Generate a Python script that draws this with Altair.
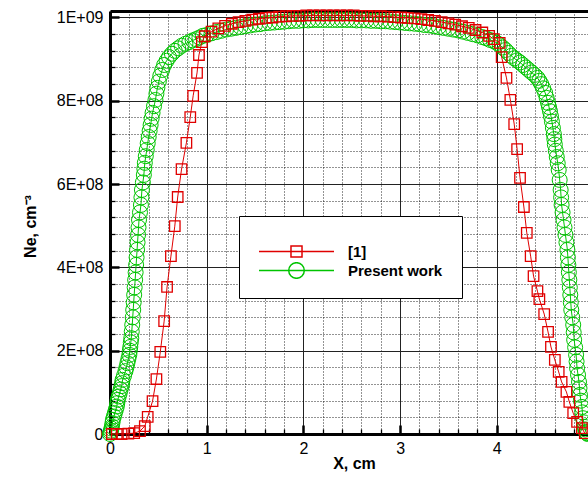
import altair as alt
import pandas as pd

RED = "#e00000"
GREEN = "#00c400"
FONT = "Liberation Sans"
series_names = ["[1]", "Present work"]

# ---- data: [1] (red squares), Ne in units of 1E+08 cm^-3 ----
red_x = [0.02, 0.07, 0.12, 0.19, 0.25, 0.31, 0.36, 0.39, 0.44, 0.48, 0.52, 0.56, 0.59, 0.63,
         0.67, 0.70, 0.74, 0.79, 0.83, 0.86, 0.90, 0.92, 0.95,
         0.98, 1.05, 1.12, 1.19, 1.26, 1.33, 1.40, 1.47, 1.54, 1.61, 1.68, 1.75, 1.82, 1.89,
         1.96, 2.03, 2.10, 2.17, 2.24, 2.31, 2.38, 2.45, 2.52, 2.59, 2.66, 2.73, 2.80, 2.87,
         2.94, 3.01, 3.08, 3.15, 3.22, 3.29, 3.36, 3.43, 3.50, 3.57, 3.64, 3.71, 3.78, 3.85,
         3.92, 3.97,
         4.03, 4.05, 4.10, 4.14, 4.18, 4.21, 4.24, 4.28, 4.31, 4.35, 4.38, 4.42, 4.44, 4.49,
         4.53, 4.56, 4.60, 4.64, 4.67, 4.72, 4.75, 4.79, 4.83, 4.88, 4.91]
red_ne = [0.00, 0.00, 0.00, 0.01, 0.02, 0.07, 0.19, 0.41, 0.79, 1.32, 1.97, 2.71, 3.53, 4.27,
          4.99, 5.69, 6.36, 6.99, 7.61, 8.12, 8.67, 9.10, 9.41,
          9.55, 9.66, 9.74, 9.80, 9.85, 9.89, 9.92, 9.95, 9.97, 9.99, 10.00, 10.02, 10.03, 10.04,
          10.04, 10.05, 10.05, 10.05, 10.05, 10.05, 10.05, 10.05, 10.05, 10.04, 10.04, 10.03, 10.03, 10.02,
          10.01, 10.00, 9.99, 9.98, 9.96, 9.94, 9.92, 9.89, 9.86, 9.83, 9.79, 9.75, 9.70, 9.64,
          9.56, 9.48,
          9.39, 9.05, 8.55, 8.02, 7.44, 6.84, 6.15, 5.45, 4.83, 4.27, 3.79, 3.43, 3.24, 2.88,
          2.45, 2.09, 1.78, 1.49, 1.25, 1.01, 0.77, 0.50, 0.29, 0.14, 0.02]

# ---- data: Present work (green circles) ----
green_x = [0.000, 0.005, 0.010, 0.015, 0.020, 0.025, 0.030, 0.040, 0.050, 0.060,
           0.070, 0.075, 0.080, 0.090, 0.100, 0.110, 0.120, 0.125, 0.130, 0.145,
           0.160, 0.170, 0.180, 0.190, 0.200, 0.205, 0.210, 0.215, 0.220, 0.225,
           0.230, 0.235, 0.240, 0.245, 0.250, 0.255, 0.260, 0.265, 0.270, 0.275,
           0.280, 0.285, 0.290, 0.295, 0.300, 0.310, 0.320, 0.325, 0.330, 0.340,
           0.350, 0.355, 0.360, 0.370, 0.380, 0.390, 0.400, 0.410, 0.420, 0.430,
           0.440, 0.455, 0.470, 0.480, 0.490, 0.505, 0.520, 0.540, 0.560, 0.585,
           0.610, 0.640, 0.670, 0.705, 0.740, 0.780, 0.820, 0.855, 0.890, 0.925,
           0.960, 1.00, 1.05, 1.10, 1.15, 1.20, 1.25, 1.30, 1.35, 1.40,
           1.45, 1.50, 1.55, 1.60, 1.65, 1.70, 1.75, 1.80, 1.85, 1.90,
           1.95, 2.00, 2.05, 2.10, 2.15, 2.20, 2.25, 2.30, 2.35, 2.40,
           2.45, 2.50, 2.55, 2.60, 2.65, 2.70, 2.75, 2.80, 2.85, 2.90,
           2.95, 3.00, 3.05, 3.10, 3.15, 3.20, 3.25, 3.30, 3.35, 3.40,
           3.45, 3.50, 3.55, 3.60, 3.65, 3.70, 3.75, 3.80, 3.85, 3.89,
           3.93, 3.97, 4.00, 4.03, 4.06, 4.09, 4.12, 4.15, 4.18, 4.21,
           4.24, 4.27, 4.30, 4.33, 4.36, 4.39, 4.42, 4.44, 4.46, 4.48,
           4.50, 4.515, 4.53, 4.54, 4.55, 4.56, 4.57, 4.58, 4.59, 4.595,
           4.60, 4.61, 4.62, 4.63, 4.64, 4.65, 4.66, 4.665, 4.67, 4.68,
           4.69, 4.70, 4.71, 4.72, 4.73, 4.735, 4.74, 4.745, 4.75, 4.755,
           4.76, 4.765, 4.77, 4.78, 4.79, 4.795, 4.80, 4.81, 4.82, 4.825,
           4.83, 4.84, 4.85, 4.855, 4.86, 4.87, 4.88, 4.885, 4.89, 4.90,
           4.91, 4.915, 4.92, 4.93, 4.94]
green_ne = [0.00, 0.04, 0.08, 0.13, 0.18, 0.26, 0.34, 0.42, 0.50, 0.58,
            0.66, 0.74, 0.82, 0.90, 0.98, 1.07, 1.15, 1.22, 1.30, 1.40,
            1.51, 1.60, 1.70, 1.80, 1.90, 2.00, 2.09, 2.20, 2.30, 2.46,
            2.62, 2.80, 2.98, 3.16, 3.34, 3.52, 3.70, 3.88, 4.06, 4.24,
            4.42, 4.60, 4.78, 4.96, 5.14, 5.32, 5.50, 5.68, 5.86, 6.04,
            6.22, 6.37, 6.51, 6.67, 6.82, 6.98, 7.13, 7.28, 7.42, 7.57,
            7.71, 7.87, 8.02, 8.17, 8.31, 8.46, 8.60, 8.74, 8.86, 8.96,
            9.05, 9.13, 9.20, 9.26, 9.32, 9.37, 9.41, 9.45, 9.48, 9.52,
            9.56, 9.58, 9.62, 9.65, 9.68, 9.71, 9.73, 9.75, 9.77, 9.79,
            9.81, 9.83, 9.84, 9.86, 9.87, 9.88, 9.89, 9.90, 9.91, 9.92,
            9.92, 9.93, 9.93, 9.94, 9.94, 9.94, 9.94, 9.94, 9.94, 9.94,
            9.94, 9.94, 9.93, 9.93, 9.93, 9.92, 9.92, 9.91, 9.91, 9.90,
            9.89, 9.88, 9.87, 9.86, 9.85, 9.84, 9.82, 9.81, 9.79, 9.77,
            9.75, 9.73, 9.71, 9.69, 9.66, 9.63, 9.60, 9.57, 9.53, 9.50,
            9.46, 9.43, 9.39, 9.34, 9.28, 9.22, 9.15, 9.08, 9.02, 8.97,
            8.92, 8.86, 8.80, 8.74, 8.68, 8.62, 8.55, 8.48, 8.40, 8.30,
            8.19, 8.07, 7.95, 7.85, 7.75, 7.63, 7.50, 7.35, 7.20, 7.08,
            6.95, 6.80, 6.65, 6.50, 6.34, 6.10, 5.86, 5.68, 5.50, 5.32,
            5.14, 4.96, 4.78, 4.60, 4.42, 4.24, 4.06, 3.88, 3.70, 3.52,
            3.34, 3.16, 2.98, 2.80, 2.62, 2.44, 2.26, 2.08, 1.90, 1.74,
            1.58, 1.42, 1.25, 1.10, 0.94, 0.80, 0.65, 0.52, 0.38, 0.28,
            0.17, 0.11, 0.05, 0.02, 0.00]

# ---- tick values ----
x_major = [0, 1, 2, 3, 4]
x_minor = [0.2, 0.4, 0.6, 0.8, 1.2, 1.4, 1.6, 1.8, 2.2, 2.4, 2.6, 2.8,
           3.2, 3.4, 3.6, 3.8, 4.2, 4.4, 4.6, 4.8]
y_major = [0, 2e8, 4e8, 6e8, 8e8, 1e9]
y_minor = [4e7, 8e7, 1.2e8, 1.6e8, 2.4e8, 2.8e8, 3.2e8, 3.6e8, 4.4e8, 4.8e8,
           5.2e8, 5.6e8, 6.4e8, 6.8e8, 7.2e8, 7.6e8, 8.4e8, 8.8e8, 9.2e8, 9.6e8]

assert len(red_x) == len(red_ne) and len(green_x) == len(green_ne)

red_df = pd.DataFrame({"x": red_x, "ne": [v * 1e8 for v in red_ne]})
green_df = pd.DataFrame({"x": green_x, "ne": [v * 1e8 for v in green_ne]})
legend_df = pd.DataFrame({"series": series_names})

xs = alt.Scale(domain=[0, 4.943], nice=False, zero=False)
ys = alt.Scale(domain=[0, 1.0156e9], nice=False, zero=False)


def axis_layer(xaxis, yaxis):
    return alt.Chart(red_df).mark_point(opacity=0).encode(
        x=alt.X("x:Q", scale=xs, axis=xaxis),
        y=alt.Y("ne:Q", scale=ys, axis=yaxis),
    )


minor = axis_layer(
    alt.Axis(orient="bottom", values=x_minor, grid=True, gridColor="black", gridDash=[1, 2],
             gridWidth=1, gridOpacity=0.85, labels=False, domain=False, ticks=True,
             tickColor="black", tickWidth=1.3, tickSize={"expr": "-5"}, title=None),
    alt.Axis(orient="left", values=y_minor, grid=True, gridColor="black", gridDash=[1, 2],
             gridWidth=1, gridOpacity=0.85, labels=False, domain=False, ticks=True,
             tickColor="black", tickWidth=1.3, tickSize={"expr": "-5"}, title=None),
)

major = axis_layer(
    alt.Axis(orient="bottom", values=x_major, grid=True, gridColor="#222222", gridWidth=1,
             labels=False, domain=False, ticks=True, tickColor="black", tickWidth=2.5,
             tickSize={"expr": "-9"}, title=None),
    alt.Axis(orient="left", values=y_major, grid=True, gridColor="#222222", gridWidth=1,
             labels=False, domain=False, ticks=True, tickColor="black", tickWidth=2.5,
             tickSize={"expr": "-9"}, title=None),
)

labels = axis_layer(
    alt.Axis(orient="bottom", values=x_major, grid=False, ticks=False, domain=True,
             domainColor="black", domainWidth=3, labels=True, labelFont=FONT, labelFontSize=16,
             labelColor="black", labelPadding=6, labelFlush=False, labelOverlap=False,
             title="X, cm", titleFont=FONT, titleFontSize=16, titleFontWeight="bold",
             titleColor="black", titleX=244, titleY=29, titleBaseline="middle", titleAlign="center"),
    alt.Axis(orient="left", values=y_major, grid=False, ticks=False, domain=True,
             domainColor="black", domainWidth=3, labels=True, labelFont=FONT, labelFontSize=16,
             labelColor="black", labelPadding=7, labelFlush=False, labelOverlap=False,
             labelExpr="datum.value == 0 ? '0' : (datum.value >= 1e9 ? '1E+09' : format(datum.value / 1e8, 'd') + 'E+08')",
             title="Ne, cm⁻³", titleFont=FONT, titleFontSize=16, titleFontWeight="bold",
             titleColor="black", titleX=-80, titleY=215, titleBaseline="middle", titleAlign="center"),
)

top = alt.Chart(red_df).mark_point(opacity=0).encode(
    x=alt.X("x:Q", scale=xs, axis=alt.Axis(orient="top", domain=True, domainColor="black",
                                           domainWidth=3, ticks=False, labels=False, grid=False,
                                           title=None)),
    y=alt.Y("ne:Q", scale=ys, axis=None),
)


def series_layers(df, color, shape, size, sw):
    enc = dict(x=alt.X("x:Q", scale=xs, axis=None), y=alt.Y("ne:Q", scale=ys, axis=None))
    line = alt.Chart(df).mark_line(color=color, strokeWidth=1).encode(**enc)
    pts = alt.Chart(df).mark_point(shape=shape, size=size, filled=False, color=color,
                                   strokeWidth=sw, opacity=1).encode(**enc)
    return line, pts


g_line, g_pts = series_layers(green_df, GREEN, "circle", 225, 1.0)
r_line, r_pts = series_layers(red_df, RED, "square", 110, 1.3)

PATH_SQ = "M-1,0H1M-0.147,-0.147H0.147V0.147H-0.147Z"
PATH_CI = "M-1,0H1M0.208,0A0.208,0.208,0,1,1,-0.208,0A0.208,0.208,0,1,1,0.208,0Z"

leg = alt.Legend(orient="none", legendX=129, legendY=205, padding=19, fillColor="white",
                 strokeColor="black", title=" ", titleFontSize=6, titlePadding=2,
                 labelFont=FONT, labelFontSize=15, labelFontWeight="bold", labelColor="black",
                 labelOffset=13, symbolSize=5625, symbolStrokeWidth=1.5, symbolOpacity=1,
                 clipHeight=17, rowPadding=2, symbolOffset=0)

legend_layer = alt.Chart(legend_df).mark_point(opacity=0, filled=False).encode(
    color=alt.Color("series:N", scale=alt.Scale(domain=series_names, range=[RED, GREEN]), legend=leg),
    shape=alt.Shape("series:N", scale=alt.Scale(domain=series_names, range=[PATH_SQ, PATH_CI]), legend=leg),
)

chart = alt.layer(minor, major, labels, top, g_line, g_pts, r_line, r_pts, legend_layer).resolve_axis(
    x="independent", y="independent"
).properties(
    width=478, height=423,
    autosize=alt.AutoSizeParams(type="none"),
    padding={"left": 110, "top": 11, "right": 0, "bottom": 43},
    background="white",
).configure_view(stroke=None)

chart.save("out.html", embed_options={"renderer": "svg", "actions": False})
